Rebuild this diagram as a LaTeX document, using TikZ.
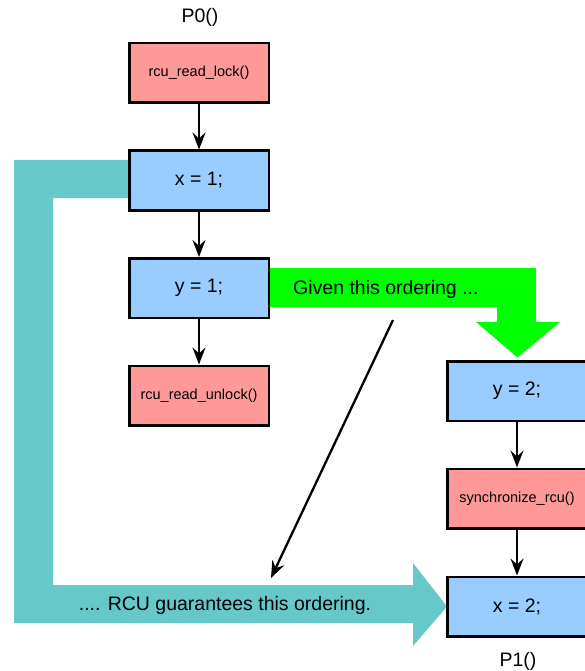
\documentclass[tikz,border=0pt]{standalone}
\usepackage{fontspec}
\setmainfont{Liberation Sans}
\usetikzlibrary{arrows.meta}
\definecolor{boxred}{HTML}{FF9999}
\definecolor{boxblue}{HTML}{99CCFF}
\definecolor{teal2}{HTML}{66C8C8}
\definecolor{green2}{HTML}{00FF00}
\begin{document}
\begin{tikzpicture}[x=1pt,y=-1pt,
  box/.style={draw=black,line width=2.5pt,minimum width=139.5pt,minimum height=59.5pt,inner sep=0pt,font=\fontsize{19.5}{22}\selectfont},
  redbox/.style={box,fill=boxred,font=\fontsize{14.5}{17}\selectfont},
  bluebox/.style={box,fill=boxblue},
  big/.style={font=\fontsize{19.5}{22}\selectfont,inner sep=0pt},
  flow/.style={line width=2.3pt,-{Stealth[length=17pt,width=13pt,inset=6pt]}}]
\useasboundingbox (0,0) rectangle (584,671);
% teal big arrow
\fill[teal2] (14,160) -- (130,160) -- (130,198) -- (53,198) -- (53,585) -- (413,585)
  -- (413,563) -- (447,606.5) -- (413,646) -- (413,623) -- (14,623) -- cycle;
% green big arrow
\fill[green2] (268,268) -- (536,268) -- (536,322) -- (560,322) -- (517.5,357.5)
  -- (476,322) -- (497,322) -- (497,307) -- (268,307) -- cycle;
% boxes
\node[redbox] (lock) at (199,73) {rcu\_read\_lock()};
\node[bluebox] (x1) at (199,180.5) {x = 1;};
\node[bluebox] (y1) at (199,288) {y = 1;};
\node[redbox] (unlock) at (199,395.5) {rcu\_read\_unlock()};
\node[bluebox] (y2) at (517,391) {y = 2;};
\node[redbox] (sync) at (517,498.5) {synchronize\_rcu()};
\node[bluebox] (x2) at (517,606.5) {x = 2;};
% labels
\node[big] (p0) at (200,17) {P0()};
\node[big] (p1) at (518,661) {P1()};
\node[big,anchor=west] (given) at (293,289) {Given this ordering ...};
\node[big] (rcu) at (225,605) {.... RCU guarantees this ordering.};
% connectors
\draw[flow] (lock) -- (x1);
\draw[flow] (x1) -- (y1);
\draw[flow] (y1) -- (unlock);
\draw[flow] (y2) -- (sync);
\draw[flow] (sync) -- (x2);
\coordinate (ds) at (393,320);
\coordinate (de) at (271,578);
\draw[flow] (ds) -- (de);
\end{tikzpicture}
\end{document}
